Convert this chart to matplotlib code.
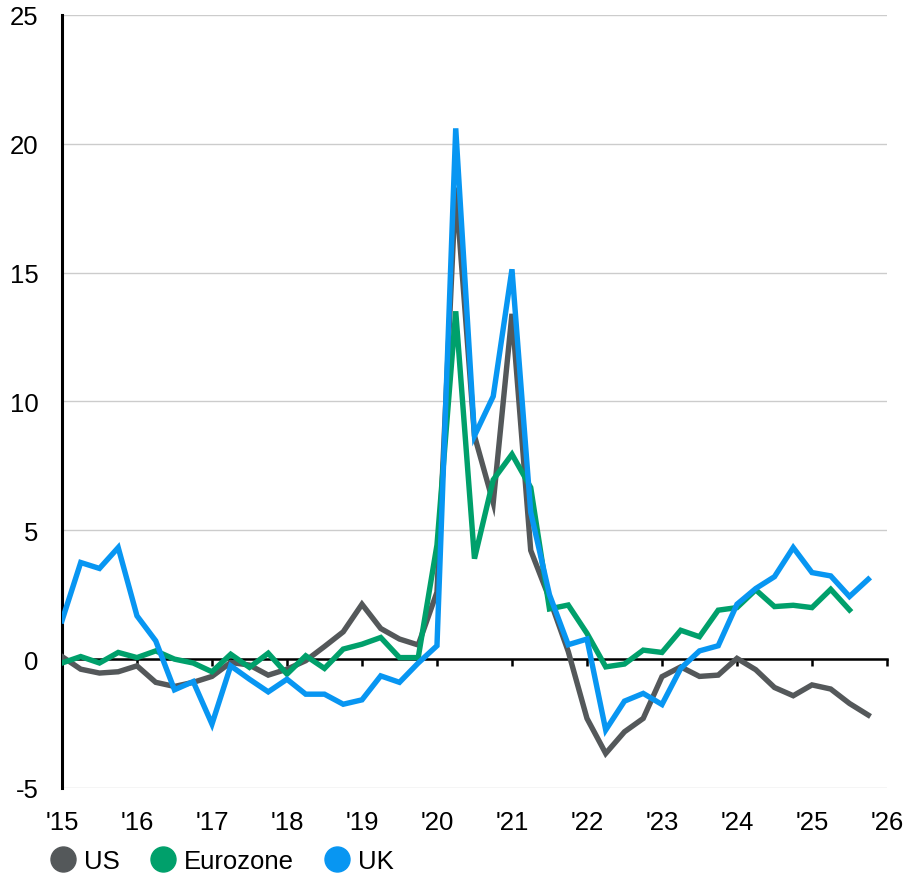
import matplotlib
matplotlib.use("Agg")
import matplotlib.pyplot as plt
from matplotlib.lines import Line2D
import numpy as np

plt.rcParams['font.family'] = ['Liberation Sans', 'DejaVu Sans']

quarters_us_uk = [2015 + 0.25 * i for i in range(44)]
quarters_ez = quarters_us_uk[:43]

us = [0.10, -0.39, -0.54, -0.49,
      -0.26, -0.90, -1.06, -0.90,
      -0.67, -0.13, -0.23, -0.62,
      -0.39, -0.06, 0.49, 1.06,
      2.13, 1.19, 0.78, 0.55,
      2.6, 18.3, 8.67, 6.07,
      13.4, 4.22, 2.35, 0.3,
      -2.3, -3.66, -2.82, -2.3,
      -0.68, -0.30, -0.67, -0.62,
      0.03, -0.41, -1.10, -1.42,
      -1.0, -1.16, -1.72, -2.17]

eurozone = [-0.15, 0.10, -0.15, 0.26,
            0.06, 0.32, 0.0, -0.15,
            -0.49, 0.19, -0.32, 0.23,
            -0.58, 0.13, -0.36, 0.39,
            0.58, 0.84, 0.06, 0.06,
            4.43, 13.5, 3.9, 6.96,
            7.95, 6.66, 1.95, 2.1,
            1.0, -0.30, -0.19, 0.35,
            0.26, 1.12, 0.87, 1.9,
            2.0, 2.69, 2.04, 2.09,
            2.0, 2.71, 1.91]

uk = [1.49, 3.75, 3.52, 4.33,
      1.68, 0.71, -1.19, -0.87,
      -2.52, -0.26, -0.78, -1.27,
      -0.78, -1.36, -1.36, -1.75,
      -1.58, -0.65, -0.9, -0.15,
      0.52, 20.6, 8.67, 10.2,
      15.13, 5.7, 2.5, 0.56,
      0.78, -2.75, -1.63, -1.33,
      -1.76, -0.36, 0.32, 0.52,
      2.13, 2.74, 3.2, 4.33,
      3.36, 3.23, 2.43, 3.1]

year_ticks = list(range(2015, 2027))
year_labels = ["'15", "'16", "'17", "'18", "'19", "'20", "'21", "'22", "'23", "'24", "'25", "'26"]
y_ticks = [-5, 0, 5, 10, 15, 20, 25]

c_us = '#54585a'
c_ez = '#00a06b'
c_uk = '#0896f2'

fig = plt.figure(figsize=(9.06, 8.78), dpi=100)
ax = fig.add_axes([0.0684, 0.1014, 0.9106, 0.8804])

ax.set_xlim(2015, 2026)
ax.set_ylim(-5, 25)

ax.set_yticks(y_ticks)
ax.set_yticklabels([str(v) for v in y_ticks])
ax.tick_params(axis='y', length=0, pad=17, labelsize=18.5)
ax.yaxis.grid(True, color='#cccccc', linewidth=1.0)
ax.set_axisbelow(True)

for s in ['top', 'right']:
    ax.spines[s].set_visible(False)
ax.spines['left'].set_color('black')
ax.spines['left'].set_linewidth(2.2)
ax.spines['bottom'].set_position(('data', 0))
ax.spines['bottom'].set_color('black')
ax.spines['bottom'].set_linewidth(1.8)
ax.set_xticks(year_ticks)
ax.tick_params(axis='x', direction='out', length=5, width=1.8, color='black', labelbottom=False)

sec = ax.secondary_xaxis('bottom')
sec.set_xticks(year_ticks)
sec.set_xticklabels(year_labels)
sec.tick_params(axis='x', length=0, pad=16, labelsize=18.5)
sec.spines['bottom'].set_visible(False)

lw = 3.9
ax.plot(quarters_us_uk, us, color=c_us, lw=lw, solid_joinstyle='miter', zorder=3)
ax.plot(quarters_ez, eurozone, color=c_ez, lw=lw, solid_joinstyle='miter', zorder=4)
ax.plot(quarters_us_uk, uk, color=c_uk, lw=lw, solid_joinstyle='miter', zorder=5)

handles = [Line2D([], [], marker='o', ls='none', markersize=18, color=c) for c in (c_us, c_ez, c_uk)]
fig.legend(handles, ['US', 'Eurozone', 'UK'], loc='lower left', bbox_to_anchor=(0.03, -0.022),
           ncol=3, frameon=False, fontsize=18.5, handlelength=1.0, handletextpad=0.3,
           columnspacing=1.2)

fig.savefig('out.png', dpi=100)
